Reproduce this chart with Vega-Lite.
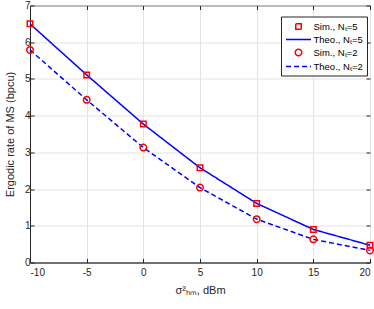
{
  "$schema": "https://vega.github.io/schema/vega-lite/v6.json",
  "width": 340,
  "height": 257,
  "autosize": {"type": "none"},
  "padding": {"left": 30, "top": 5.5, "right": 4, "bottom": 46.5},
  "config": {
    "font": "Liberation Sans",
    "view": {"stroke": "#262626", "strokeWidth": 1},
    "axis": {
      "labelFont": "Liberation Sans", "labelFontSize": 10, "labelColor": "#262626",
      "titleFont": "Liberation Sans", "titleFontSize": 11, "titleFontWeight": "normal", "titleColor": "#262626",
      "domainColor": "#262626", "tickColor": "#262626", "tickSize": -4,
      "gridColor": "#e3e3e3", "gridOpacity": 1,
      "labelExpr": "replace(datum.label, '−', '-')"
    },
    "legend": {
      "orient": "none", "legendX": 251, "legendY": 11,
      "fillColor": "white", "strokeColor": "#262626", "padding": 4,
      "labelFont": "Liberation Sans", "labelFontSize": 9.5, "labelColor": "#000000",
      "symbolSize": 100, "symbolStrokeWidth": 1.5, "symbolOffset": 7.5, "labelOffset": 9, "rowPadding": 1
    }
  },
  "data": {"values": [
    {"x": -10, "y": 6.50, "series": "Sim., Nₜ=5"},
    {"x": -5, "y": 5.11, "series": "Sim., Nₜ=5"},
    {"x": 0, "y": 3.77, "series": "Sim., Nₜ=5"},
    {"x": 5, "y": 2.58, "series": "Sim., Nₜ=5"},
    {"x": 10, "y": 1.61, "series": "Sim., Nₜ=5"},
    {"x": 15, "y": 0.90, "series": "Sim., Nₜ=5"},
    {"x": 20, "y": 0.47, "series": "Sim., Nₜ=5"},
    {"x": -10, "y": 6.50, "series": "Theo., Nₜ=5"},
    {"x": -5, "y": 5.11, "series": "Theo., Nₜ=5"},
    {"x": 0, "y": 3.77, "series": "Theo., Nₜ=5"},
    {"x": 5, "y": 2.58, "series": "Theo., Nₜ=5"},
    {"x": 10, "y": 1.61, "series": "Theo., Nₜ=5"},
    {"x": 15, "y": 0.90, "series": "Theo., Nₜ=5"},
    {"x": 20, "y": 0.47, "series": "Theo., Nₜ=5"},
    {"x": -10, "y": 5.79, "series": "Sim., Nₜ=2"},
    {"x": -5, "y": 4.43, "series": "Sim., Nₜ=2"},
    {"x": 0, "y": 3.13, "series": "Sim., Nₜ=2"},
    {"x": 5, "y": 2.04, "series": "Sim., Nₜ=2"},
    {"x": 10, "y": 1.18, "series": "Sim., Nₜ=2"},
    {"x": 15, "y": 0.63, "series": "Sim., Nₜ=2"},
    {"x": 20, "y": 0.33, "series": "Sim., Nₜ=2"},
    {"x": -10, "y": 5.79, "series": "Theo., Nₜ=2"},
    {"x": -5, "y": 4.43, "series": "Theo., Nₜ=2"},
    {"x": 0, "y": 3.13, "series": "Theo., Nₜ=2"},
    {"x": 5, "y": 2.04, "series": "Theo., Nₜ=2"},
    {"x": 10, "y": 1.18, "series": "Theo., Nₜ=2"},
    {"x": 15, "y": 0.63, "series": "Theo., Nₜ=2"},
    {"x": 20, "y": 0.33, "series": "Theo., Nₜ=2"}
  ]},
  "layer": [
    {
      "transform": [{"filter": "indexof(datum.series, 'Theo') == 0"}],
      "mark": {"type": "line", "strokeWidth": 1.5},
      "encoding": {
        "x": {"field": "x", "type": "quantitative", "scale": {"domain": [-10, 20], "nice": false},
              "axis": {"values": [-10, -5, 0, 5, 10, 15, 20], "grid": true, "title": "σ²ₕₘ, dBm", "labelPadding": 9, "titlePadding": 7}},
        "y": {"field": "y", "type": "quantitative", "scale": {"domain": [0, 7], "nice": false},
              "axis": {"values": [0, 1, 2, 3, 4, 5, 6, 7], "grid": true, "title": "Ergodic rate of MS (bpcu)", "labelPadding": 4, "titlePadding": 9}},
        "color": {"field": "series", "type": "nominal", "title": null,
                  "scale": {"domain": ["Sim., Nₜ=5", "Theo., Nₜ=5", "Sim., Nₜ=2", "Theo., Nₜ=2"], "range": ["#ff0000", "#0000ff", "#ff0000", "#0000ff"]}},
        "strokeDash": {"field": "series", "type": "nominal", "title": null,
                  "scale": {"domain": ["Sim., Nₜ=5", "Theo., Nₜ=5", "Sim., Nₜ=2", "Theo., Nₜ=2"], "range": [[1, 0], [1, 0], [1, 0], [5, 3]]}}
      }
    },
    {
      "transform": [{"filter": "indexof(datum.series, 'Sim') == 0"}],
      "mark": {"type": "point", "filled": false, "strokeWidth": 1.5, "opacity": 1, "size": 100},
      "encoding": {
        "x": {"field": "x", "type": "quantitative", "scale": {"domain": [-10, 20], "nice": false},
              "axis": {"orient": "top", "values": [-10, -5, 0, 5, 10, 15, 20], "grid": false, "labels": false, "domain": false, "title": null}},
        "y": {"field": "y", "type": "quantitative", "scale": {"domain": [0, 7], "nice": false},
              "axis": {"orient": "right", "values": [0, 1, 2, 3, 4, 5, 6, 7], "grid": false, "labels": false, "domain": false, "title": null}},
        "color": {"field": "series", "type": "nominal", "title": null,
                  "scale": {"domain": ["Sim., Nₜ=5", "Theo., Nₜ=5", "Sim., Nₜ=2", "Theo., Nₜ=2"], "range": ["#ff0000", "#0000ff", "#ff0000", "#0000ff"]}},
        "shape": {"field": "series", "type": "nominal", "title": null,
                  "scale": {"domain": ["Sim., Nₜ=5", "Theo., Nₜ=5", "Sim., Nₜ=2", "Theo., Nₜ=2"],
                            "range": ["M-0.55,-0.55H0.55V0.55H-0.55Z", "M-2.5,0H2.5", "M0.65,0A0.65,0.65,0,1,1,-0.65,0A0.65,0.65,0,1,1,0.65,0Z", "M-2.5,0H2.5"]}}
      }
    }
  ],
  "resolve": {"axis": {"x": "independent", "y": "independent"}}
}
